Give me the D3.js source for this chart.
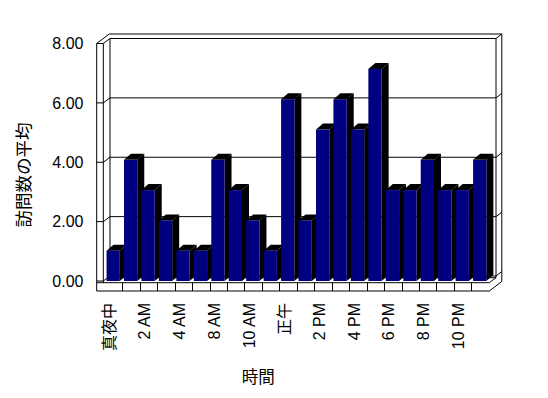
<!DOCTYPE html>
<html>
<head>
<meta charset="utf-8">
<script src="https://cdn.jsdelivr.net/npm/d3@7"></script>
<style>
  html, body { margin: 0; padding: 0; background: #fff; }
  svg { display: block; }
  text { font-family: "Liberation Sans", "Noto Sans CJK JP", sans-serif; fill: #000; }
</style>
</head>
<body>
<svg id="chart" width="548" height="398"></svg>
<script>
// ---- data ----
const categories = ["真夜中","1 AM","2 AM","3 AM","4 AM","5 AM","8 AM","9 AM","10 AM","11 AM","正午","1 PM","2 PM","3 PM","4 PM","5 PM","6 PM","7 PM","8 PM","9 PM","10 PM","11 PM"];
const values = [1,4,3,2,1,1,4,3,2,1,6,2,5,6,5,7,3,3,4,3,3,4];
const yTicks = [0,2,4,6,8];
const shownLabels = ["真夜中","2 AM","4 AM","8 AM","10 AM","正午","2 PM","4 PM","6 PM","8 PM","10 PM"];
const yTitle = "訪問数の平均";
const xTitle = "時間";

// ---- layout ----
const svg = d3.select("#chart");
const L0 = 96.7, L1 = 103.3, R1 = 489.3;
const dIn = [6.7, -5], dOut = [12.5, -9.5];
const floorTop = 282.7, floorBot = 291;
const barDepth = [7, -6];

const x = d3.scaleBand().domain(categories).range([104.8, 488.8]).padding(0);
const yGrid = d3.scaleLinear().domain([0, 8]).range([281, 43.5]);
const yBar = d3.scaleLinear().domain([0, 8]).range([281, 38.6]);
const yTop = yGrid(8);

const line = d3.line();
const frame = svg.append("g").attr("fill", "none").attr("stroke", "#000").attr("stroke-width", 1);

// outer outline
frame.append("path").attr("fill", "#fff").attr("d", line([
  [L0, floorBot], [L0, yTop], [L0 + dOut[0], yTop + dOut[1]],
  [R1 + dOut[0], yTop + dOut[1]], [R1 + dOut[0], floorBot + dOut[1]], [R1, floorBot]
]) + "Z");

// left wall inner edge
frame.append("path").attr("d", line([[L1, floorTop], [L1, yTop]]));
// back wall inner face left & right edges
frame.append("path").attr("d", line([[L1 + dIn[0], floorTop + dIn[1]], [L1 + dIn[0], yTop + dIn[1]]]));
frame.append("path").attr("d", line([[R1 + dIn[0], floorTop + dIn[1]], [R1 + dIn[0], yTop + dIn[1]]]));

// gridlines (front wall segment, depth, back wall, right thickness)
yTicks.forEach(v => {
  const yf = yGrid(v);
  frame.append("path").attr("d", line([
    [L0, yf], [L1, yf], [L1 + dIn[0], yf + dIn[1]],
    [R1 + dIn[0], yf + dIn[1]], [R1 + dOut[0], yf + dOut[1]]
  ]));
});

// floor
frame.append("path").attr("d", line([[L0, floorTop], [R1, floorTop], [R1 + dIn[0], floorTop + dIn[1]]]));
frame.append("path").attr("d", line([[L1 + dIn[0], floorTop + dIn[1]], [R1 + dIn[0], floorTop + dIn[1]]]));
categories.slice(1).forEach(c => {
  const xb = Math.round(x(c)) + 0.5;
  frame.append("path").attr("d", line([[xb, floorTop], [xb, floorBot]]));
});

// bars
const bw = x.bandwidth();
const bars = svg.append("g");
categories.forEach((c, i) => {
  const v = values[i];
  const x0 = x(c) + 0.1 * bw, w = 0.76 * bw;
  const top = yBar(v), bot = yBar(0);
  const g = bars.append("g");
  g.append("path").attr("fill", "#000").attr("d", line([
    [x0 + w, top], [x0 + w + barDepth[0], top + barDepth[1]],
    [x0 + w + barDepth[0], bot + barDepth[1]], [x0 + w, bot]
  ]) + "Z");
  g.append("path").attr("fill", "#000").attr("d", line([
    [x0, top], [x0 + barDepth[0], top + barDepth[1]],
    [x0 + w + barDepth[0], top + barDepth[1]], [x0 + w, top]
  ]) + "Z");
  g.append("rect").attr("x", x0).attr("y", top).attr("width", w).attr("height", bot - top).attr("fill", "#000080");
});

// y axis labels
const yAxis = svg.append("g").attr("transform", "translate(83.5,0)")
  .call(d3.axisLeft(yGrid).tickValues(yTicks).tickFormat(d3.format(".2f")).tickSize(0).tickPadding(0));
yAxis.select(".domain").remove();
yAxis.selectAll("text").style("font-size", "16px").attr("font-family", null);

// x axis labels
const xAxis = svg.append("g").attr("transform", "translate(-4,303)")
  .call(d3.axisBottom(x).tickValues(shownLabels).tickSize(0));
xAxis.select(".domain").remove();
xAxis.selectAll("text")
  .attr("x", 0).attr("y", 0).attr("dy", "0.35em")
  .attr("transform", "rotate(-90)")
  .attr("text-anchor", "end")
  .attr("font-family", null)
  .style("font-size", "16px");

// titles
svg.append("text")
  .attr("transform", "translate(30,175) rotate(-90)")
  .attr("text-anchor", "middle")
  .style("font-size", "17.5px")
  .text(yTitle);
svg.append("text")
  .attr("x", 258.3).attr("y", 383)
  .attr("text-anchor", "middle")
  .style("font-size", "16.5px")
  .text(xTitle);
</script>
</body>
</html>
